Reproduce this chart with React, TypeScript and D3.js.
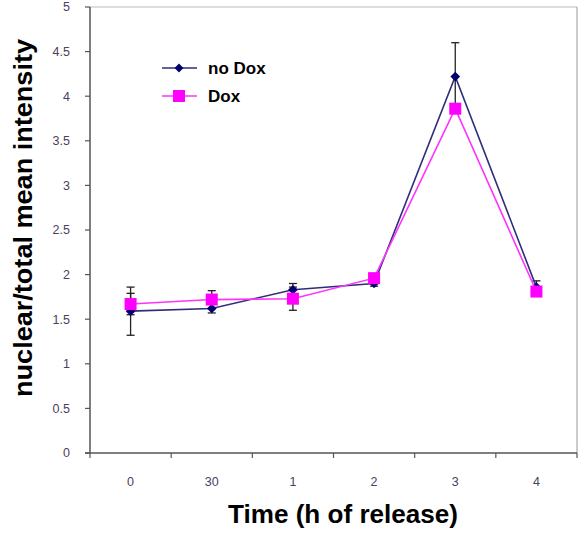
import * as d3 from 'd3'
import React from 'react'

const categories = ['0', '30', '1', '2', '3', '4']
const noDox = [1.59, 1.62, 1.83, 1.9, 4.22, 1.86]
const noDoxErr = [0.27, 0.05, 0.07, 0.03, 0.38, 0.07]
const dox = [1.67, 1.72, 1.73, 1.96, 3.86, 1.81]
const doxErr = [0.12, 0.1, 0.13, 0.03, 0, 0.05]
const yTicks = [0, 0.5, 1, 1.5, 2, 2.5, 3, 3.5, 4, 4.5, 5]

const W = 581
const H = 539
const margin = { left: 90, right: 4, top: 7, bottom: 86 }

export default function App() {
  const x = d3
    .scaleBand<string>()
    .domain(categories)
    .range([margin.left, W - margin.right])
  const y = d3
    .scaleLinear()
    .domain([0, 5])
    .range([H - margin.bottom, margin.top])

  const cx = (i: number) => (x(categories[i]) as number) + x.bandwidth() / 2
  const lineGen = d3
    .line<number>()
    .x((d, i) => cx(i))
    .y((d) => y(d))

  const series = [
    { name: 'no Dox', values: noDox, err: noDoxErr, color: '#2e2e7a', marker: '#00006e', shape: 'diamond' },
    { name: 'Dox', values: dox, err: doxErr, color: '#ff33ff', marker: '#ff00ff', shape: 'square' },
  ]

  const xTickPos = categories.map((c) => x(c) as number).concat([W - margin.right])
  const x0 = margin.left
  const x1 = W - margin.right
  const yBase = y(0)

  return (
    <svg
      width={W}
      height={H}
      style={{ position: 'absolute', left: 0, top: 0, background: '#fff' }}
      fontFamily="Arial, 'Liberation Sans', sans-serif"
    >
      {/* plot frame */}
      <line x1={x0} x2={x1} y1={y(5)} y2={y(5)} stroke="#bbb" strokeWidth={1} />
      <line x1={x1} x2={x1} y1={y(5)} y2={yBase} stroke="#999" strokeWidth={1} />

      {/* y axis */}
      <line x1={x0} x2={x0} y1={y(5)} y2={yBase} stroke="#555" strokeWidth={1.5} />
      {yTicks.map((t) => (
        <g key={t}>
          <line x1={x0 - 5} x2={x0} y1={y(t)} y2={y(t)} stroke="#555" strokeWidth={1.2} />
          <text x={x0 - 20} y={y(t)} dy="0.35em" textAnchor="end" fontSize={12.5} fill="#4b4060">
            {t}
          </text>
        </g>
      ))}

      {/* x axis */}
      <line x1={x0 - 5} x2={x1} y1={yBase} y2={yBase} stroke="#555" strokeWidth={1.5} />
      {xTickPos.map((p, i) => (
        <line key={i} x1={p} x2={p} y1={yBase} y2={yBase + 5} stroke="#555" strokeWidth={1.2} />
      ))}
      {categories.map((c, i) => (
        <text key={c} x={cx(i)} y={yBase + 33} textAnchor="middle" fontSize={12.5} fill="#4b4060">
          {c}
        </text>
      ))}

      {/* error bars */}
      {series.map((s) =>
        s.values.map((v, i) =>
          s.err[i] > 0 ? (
            <g key={s.name + i} stroke="#222" strokeWidth={1.3}>
              <line x1={cx(i)} x2={cx(i)} y1={y(v - s.err[i])} y2={y(v + s.err[i])} />
              <line x1={cx(i) - 4} x2={cx(i) + 4} y1={y(v - s.err[i])} y2={y(v - s.err[i])} />
              <line x1={cx(i) - 4} x2={cx(i) + 4} y1={y(v + s.err[i])} y2={y(v + s.err[i])} />
            </g>
          ) : null
        )
      )}

      {/* lines and markers */}
      {series.map((s) => (
        <g key={s.name}>
          <path d={lineGen(s.values) || ''} fill="none" stroke={s.color} strokeWidth={1.6} />
          {s.values.map((v, i) =>
            s.shape === 'diamond' ? (
              <path
                key={i}
                d={d3.symbol(d3.symbolDiamond2, 60)() || ''}
                transform={`translate(${cx(i)},${y(v)})`}
                fill={s.marker}
              />
            ) : (
              <rect key={i} x={cx(i) - 6} y={y(v) - 6} width={12} height={12} fill={s.marker} />
            )
          )}
        </g>
      ))}

      {/* legend */}
      {series.map((s, i) => {
        const ly = 68 + i * 28
        return (
          <g key={s.name}>
            <line x1={162} x2={197} y1={ly} y2={ly} stroke={s.color} strokeWidth={1.6} />
            {s.shape === 'diamond' ? (
              <path d={d3.symbol(d3.symbolDiamond2, 50)() || ''} transform={`translate(179,${ly})`} fill={s.marker} />
            ) : (
              <rect x={173} y={ly - 6} width={12} height={12} fill={s.marker} />
            )}
            <text x={208} y={ly} dy="0.35em" fontSize={17} fontWeight="bold" fill="#000">
              {s.name}
            </text>
          </g>
        )
      })}

      {/* axis titles */}
      <text
        transform={`translate(32,218) rotate(-90)`}
        textAnchor="middle"
        fontSize={25}
        fontWeight="bold"
        fill="#000"
        textLength={358}
        lengthAdjust="spacingAndGlyphs"
      >
        nuclear/total mean intensity
      </text>
      <text
        x={343}
        y={523}
        textAnchor="middle"
        fontSize={26}
        fontWeight="bold"
        fill="#000"
        textLength={230}
        lengthAdjust="spacingAndGlyphs"
      >
        Time (h of release)
      </text>
    </svg>
  )
}
